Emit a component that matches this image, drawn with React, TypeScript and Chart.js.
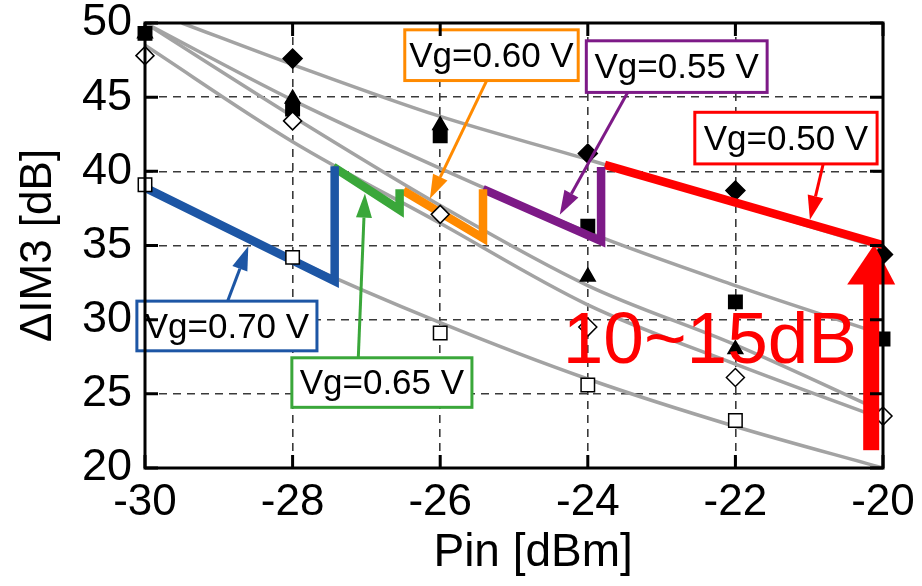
import React, { useEffect, useRef } from 'react';
import { Chart, registerables } from 'chart.js';
Chart.register(...registerables);

// ---- axis ranges / ticks ----
const xTicks = [-30, -28, -26, -24, -22, -20];
const yTicks = [20, 25, 30, 35, 40, 45, 50];

// ---- measured points (Pin [dBm], ΔIM3 [dB]) ----
const filledDiamond = [[-28, 47.6], [-24, 41.2], [-22, 38.7], [-20, 34.4]];
const filledTriangle = [[-30, 49.3], [-28, 44.9], [-26, 43.1], [-24, 32.9], [-22, 28.0]];
const filledSquare = [[-30, 49.3], [-28, 44.2], [-26, 42.4], [-24, 36.3], [-22, 31.2], [-20, 28.7]];
const openDiamond = [[-30, 47.8], [-28, 43.4], [-26, 37.1], [-24, 29.5], [-22, 26.1], [-20, 23.5]];
const openSquare = [[-30, 39.1], [-28, 34.2], [-26, 29.1], [-24, 25.6], [-22, 23.2]];

// ---- gray fitted curves ----
const fitA = [[-29.5, 50], [-28, 47.2], [-26, 43.7], [-24, 40.8], [-22, 37.8], [-20, 34.8]];
const fitB = [[-30, 50], [-28, 44.8], [-26, 40.2], [-24, 35.9], [-22, 32.3], [-20, 29.0]];
const fitC = [[-30, 50], [-28, 43.7], [-26, 37.7], [-24, 32.3], [-22, 28.3], [-20, 23.8]];
const fitD = [[-30, 48.5], [-28, 42.0], [-26, 36.5], [-24, 31.0], [-22, 27.0], [-20, 23.3]];
const fitE = [[-30, 39.0], [-28, 34.1], [-26, 29.8], [-24, 26.0], [-22, 22.8], [-20, 20.0]];

// ---- Vg switching segments ----
const seg070 = [[-30, 38.9], [-27.43, 32.6], [-27.43, 40.35]];
const seg065 = [[-27.45, 40.3], [-26.55, 37.4], [-26.55, 38.8]];
const seg060 = [[-26.5, 38.7], [-25.42, 35.5], [-25.42, 38.8]];
const seg055 = [[-25.42, 38.8], [-23.82, 35.3], [-23.82, 40.3]];
const seg050 = [[-23.77, 40.43], [-19.95, 34.95]];

// ---- labels ----
const vgLabels = ['Vg=0.70 V', 'Vg=0.65 V', 'Vg=0.60 V', 'Vg=0.55 V', 'Vg=0.50 V'];
const vgColors = ['#1d56a5', '#3aa73a', '#ff8a00', '#7d1a87', '#ff0000'];
const bigText = '10~15dB';
const xTitle = 'Pin [dBm]';
const yTitle = 'ΔIM3 [dB]';

// annotation boxes in data units: [x0, y0(top), x1, y1(bottom)], arrow [from x,y, to x,y]
const boxRects = [
  [-30.11, 31.25, -27.67, 27.9],
  [-28.01, 27.43, -25.57, 24.09],
  [-26.48, 49.54, -24.13, 46.12],
  [-24.02, 48.8, -21.57, 45.32],
  [-22.55, 43.98, -20.08, 40.5],
];
const boxArrows = [
  [-28.88, 31.25, -28.6, 34.95],
  [-27.11, 27.43, -27.02, 38.5],
  [-25.37, 46.12, -26.14, 38.15],
  [-23.46, 45.32, -24.38, 37.08],
  [-20.81, 40.5, -20.99, 36.74],
];
const bigArrow = [-20.16, 21.2, -20.16, 35.07];
const bigTextPos = [-24.34, 27.1];

const pts = (a: number[][]) => a.map(([x, y]) => ({ x, y }));
const FONT = '"Liberation Sans", Arial, sans-serif';

function arrow(ctx: CanvasRenderingContext2D, x0: number, y0: number, x1: number, y1: number,
  color: string, lw: number, hl: number, hw: number) {
  const ang = Math.atan2(y1 - y0, x1 - x0);
  const bx = x1 - hl * Math.cos(ang), by = y1 - hl * Math.sin(ang);
  ctx.strokeStyle = color; ctx.fillStyle = color; ctx.lineWidth = lw; ctx.lineCap = 'butt';
  ctx.beginPath(); ctx.moveTo(x0, y0); ctx.lineTo(bx, by); ctx.stroke();
  ctx.beginPath();
  ctx.moveTo(x1, y1);
  ctx.lineTo(bx + hw * Math.sin(ang), by - hw * Math.cos(ang));
  ctx.lineTo(bx - hw * Math.sin(ang), by + hw * Math.cos(ang));
  ctx.closePath(); ctx.fill();
}

const annotPlugin = {
  id: 'annot',
  afterDatasetsDraw(chart: any) {
    const { ctx, scales } = chart;
    const X = (v: number) => scales.x.getPixelForValue(v);
    const Y = (v: number) => scales.y.getPixelForValue(v);
    ctx.save();
    boxRects.forEach((r, i) => {
      const a = boxArrows[i];
      arrow(ctx, X(a[0]), Y(a[1]), X(a[2]), Y(a[3]), vgColors[i], 3, 24, 8);
      const x0 = X(r[0]), y0 = Y(r[1]), x1 = X(r[2]), y1 = Y(r[3]);
      ctx.fillStyle = '#fff';
      ctx.fillRect(x0, y0, x1 - x0, y1 - y0);
      ctx.strokeStyle = vgColors[i]; ctx.lineWidth = 3;
      ctx.strokeRect(x0, y0, x1 - x0, y1 - y0);
      ctx.fillStyle = '#000';
      ctx.font = `35px ${FONT}`;
      ctx.textAlign = 'center'; ctx.textBaseline = 'middle';
      ctx.fillText(vgLabels[i], (x0 + x1) / 2, (y0 + y1) / 2 + 2);
    });
    // big text
    ctx.fillStyle = '#ff0000';
    ctx.font = `73px ${FONT}`;
    ctx.textAlign = 'left'; ctx.textBaseline = 'alphabetic';
    ctx.fillText(bigText, X(bigTextPos[0]), Y(bigTextPos[1]));
    // big arrow
    const ax = X(bigArrow[0]), ay0 = Y(bigArrow[1]), ay1 = Y(bigArrow[3]);
    ctx.fillRect(ax - 8, ay1 + 38, 16, ay0 - (ay1 + 38));
    ctx.beginPath();
    ctx.moveTo(ax + 3, ay1);
    ctx.lineTo(ax + 24, ay1 + 40);
    ctx.lineTo(ax - 24, ay1 + 40);
    ctx.closePath(); ctx.fill();
    ctx.restore();
  },
  afterDraw(chart: any) {
    const { ctx, chartArea: ca, scales } = chart;
    ctx.save();
    ctx.strokeStyle = '#000'; ctx.lineWidth = 3;
    ctx.strokeRect(ca.left, ca.top, ca.right - ca.left, ca.bottom - ca.top);
    const L = 13;
    ctx.beginPath();
    xTicks.forEach((v) => {
      const px = scales.x.getPixelForValue(v);
      ctx.moveTo(px, ca.bottom); ctx.lineTo(px, ca.bottom - L);
      ctx.moveTo(px, ca.top); ctx.lineTo(px, ca.top + L);
    });
    yTicks.forEach((v) => {
      const py = scales.y.getPixelForValue(v);
      ctx.moveTo(ca.left, py); ctx.lineTo(ca.left + L, py);
      ctx.moveTo(ca.right, py); ctx.lineTo(ca.right - L, py);
    });
    ctx.stroke();
    ctx.restore();
  },
};

export default function App() {
  const ref = useRef<HTMLCanvasElement>(null);
  useEffect(() => {
    document.body.style.margin = '0';
    const gray = (d: number[][]) => ({
      data: pts(d), showLine: true, borderColor: '#a3a3a3', borderWidth: 3.5,
      pointRadius: 0, cubicInterpolationMode: 'monotone', order: 40,
    });
    const seg = (d: number[][], c: string) => ({
      data: pts(d), showLine: true, borderColor: c, borderWidth: 8.5,
      pointRadius: 0, tension: 0, borderJoinStyle: 'miter', borderCapStyle: 'butt', order: 10,
    });
    const mark = (d: number[][], style: string, fill: string, r: number, order: number) => ({
      data: pts(d), showLine: false, pointStyle: style, pointRadius: r, clip: false,
      pointBackgroundColor: fill, pointBorderColor: '#000', pointBorderWidth: 1.5, order,
    });
    const chart = new Chart(ref.current!, {
      type: 'scatter',
      data: {
        datasets: [
          gray(fitA), gray(fitB), gray(fitC), gray(fitD), gray(fitE),
          mark(filledDiamond, 'rectRot', '#000', 9.5, 20),
          mark(filledTriangle, 'triangle', '#000', 8.5, 21),
          mark(filledSquare, 'rect', '#000', 9.5, 19),
          seg(seg070, vgColors[0]), seg(seg065, vgColors[1]), seg(seg060, vgColors[2]),
          seg(seg055, vgColors[3]), seg(seg050, vgColors[4]),
          mark(openDiamond, 'rectRot', '#fff', 9, 5),
          mark(openSquare, 'rect', '#fff', 9.5, 5),
        ] as any,
      },
      options: {
        animation: false,
        responsive: false,
        events: [],
        layout: { padding: { top: 23, right: 39, left: 0, bottom: 0 } },
        plugins: { legend: { display: false }, tooltip: { enabled: false } },
        scales: {
          x: {
            type: 'linear', min: -30, max: -20,
            afterBuildTicks: (s: any) => { s.ticks = xTicks.map((v) => ({ value: v })); },
            afterFit: (s: any) => { s.height = 118; s.paddingLeft = 0; s.paddingRight = 0; },
            grid: { color: '#3a3a3a', lineWidth: 1.6, drawTicks: false },
            border: { display: false, dash: [8, 6] },
            ticks: { color: '#000', font: { family: FONT, size: 44 }, padding: 8, maxRotation: 0 },
            title: { display: true, text: '   ' + xTitle, color: '#000', font: { family: FONT, size: 46 }, padding: { bottom: 5 } },
          },
          y: {
            type: 'linear', min: 20, max: 50,
            afterBuildTicks: (s: any) => { s.ticks = yTicks.map((v) => ({ value: v })); },
            afterFit: (s: any) => { s.width = 145; s.paddingTop = 0; s.paddingBottom = 0; },
            grid: { color: '#3a3a3a', lineWidth: 1.6, drawTicks: false },
            border: { display: false, dash: [8, 6] },
            ticks: { color: '#000', font: { family: FONT, size: 45 }, padding: 13 },
            title: { display: true, text: yTitle, color: '#000', font: { family: FONT, size: 44 }, padding: { top: 12 } },
          },
        },
      } as any,
      plugins: [annotPlugin],
    });
    return () => chart.destroy();
  }, []);
  return (
    <div style={{ position: 'absolute', left: 0, top: 0, width: 922, height: 586, background: '#fff' }}>
      <canvas ref={ref} width={922} height={586} style={{ width: 922, height: 586, display: 'block' }} />
    </div>
  );
}
